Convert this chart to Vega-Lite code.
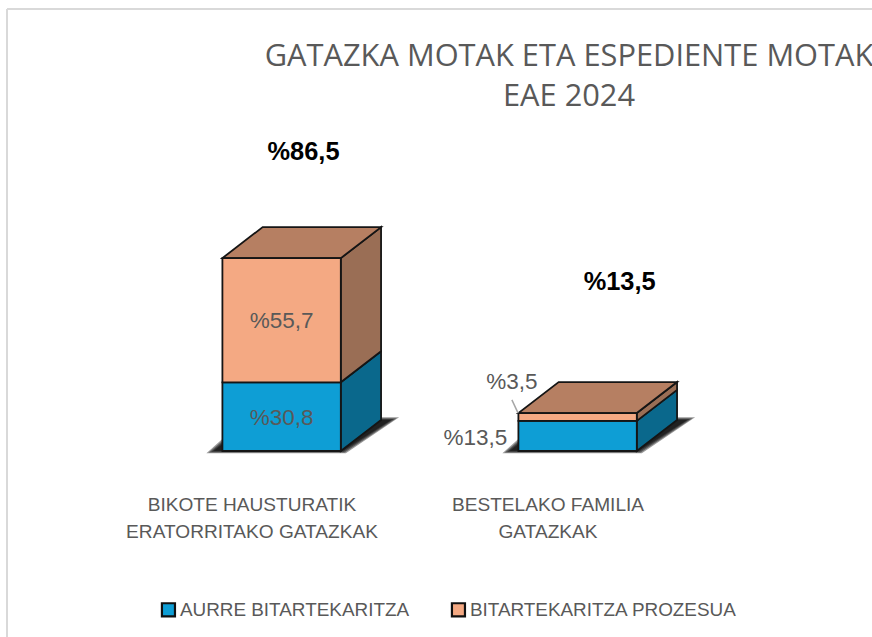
{
"$schema":"https://vega.github.io/schema/vega-lite/v6.json",
"width":872,"height":637,"padding":0,"autosize":{"type":"none"},
"background":"white",
"view":{"stroke":null},
"title":{"text":["GATAZKA MOTAK ETA ESPEDIENTE MOTAK","EAE 2024"],"anchor":"middle","frame":"group","dx":133,"offset":-113,"fontSize":30.8,"lineHeight":40,"font":"Open Sans","fontWeight":"normal","color":"#595959"},
"datasets":{
"bars":[
{"pos":1,"category":"BIKOTE HAUSTURATIK ERATORRITAKO GATAZKAK","series":"AURRE BITARTEKARITZA","value":30.8},
{"pos":1,"category":"BIKOTE HAUSTURATIK ERATORRITAKO GATAZKAK","series":"BITARTEKARITZA PROZESUA","value":55.7},
{"pos":2,"category":"BESTELAKO FAMILIA GATAZKAK","series":"AURRE BITARTEKARITZA","value":13.5},
{"pos":2,"category":"BESTELAKO FAMILIA GATAZKAK","series":"BITARTEKARITZA PROZESUA","value":3.5}],
"categories":[
{"x":1,"y":-24,"label":"BIKOTE HAUSTURATIK\nERATORRITAKO GATAZKAK"},
{"x":2,"y":-24,"label":"BESTELAKO FAMILIA\nGATAZKAK"}],
"labels":[
{"x":1.1,"y":15,"label":"%30,8"},
{"x":1.1,"y":58.2,"label":"%55,7"},
{"x":1.755,"y":5.9,"label":"%13,5"},
{"x":1.878,"y":31,"label":"%3,5"}],
"totals":[
{"x":1.174,"y":134.1,"label":"%86,5"},
{"x":2.242,"y":75.8,"label":"%13,5"}],
"leader":[{"x":1.878,"x2":1.899,"y":22.9,"y2":17}],
"frame":[{"x":0.1723,"x2":3.0946,"y":198.2,"y2":-83.41}]
},
"layer":[
{"data":{"name":"frame"},"mark":{"type":"rule","color":"#d9d9d9","strokeWidth":2},
 "encoding":{"x":{"field":"x","type":"quantitative","axis":null,"scale":{"domain":[0.1486,3.0946],"zero":false,"nice":false}},
  "y":{"field":"y","type":"quantitative","axis":null,"scale":{"domain":[-83.41,202.24],"zero":false,"nice":false}},"y2":{"field":"y2"}}},
{"data":{"name":"frame"},"mark":{"type":"rule","color":"#d9d9d9","strokeWidth":2},
 "encoding":{"x":{"field":"x","type":"quantitative","axis":null,"scale":{"domain":[0.1486,3.0946],"zero":false,"nice":false}},"x2":{"field":"x2"},"y":{"field":"y","type":"quantitative","axis":null,"scale":{"domain":[-83.41,202.24],"zero":false,"nice":false}}}},
{"data":{"name":"bars"},
 "transform":[{"filter":"datum.series=='AURRE BITARTEKARITZA'"},
  {"calculate":"[0,1,2,3]","as":"t"},{"flatten":["t"]},
  {"calculate":"[3,2,1,0]","as":"e"},{"flatten":["e"]},
  {"calculate":"datum.pos-0.13-0.008*datum.e","as":"xL"},
  {"calculate":"datum.pos+0.305+0.004*datum.e","as":"xR"},
  {"calculate":"datum.pos+0.47+0.009*datum.e","as":"xT"},
  {"calculate":"13.9+0.4*datum.e","as":"yt"},
  {"calculate":"-0.35*datum.e","as":"yb"},
  {"calculate":"[datum.xL,datum.xL+0.136,datum.xR,datum.xT][datum.t]","as":"sx"},
  {"calculate":"datum.t==3?datum.yt:datum.yb","as":"sl"},
  {"calculate":"datum.t==0?datum.yb:datum.yt","as":"su"}],
 "mark":{"type":"area","color":"black","opacity":0.4},
 "encoding":{"x":{"field":"sx","type":"quantitative","axis":null,"scale":{"domain":[0.1486,3.0946],"zero":false,"nice":false}},"y":{"field":"sl","type":"quantitative","axis":null,"scale":{"domain":[-83.41,202.24],"zero":false,"nice":false}},"y2":{"field":"su"},"detail":[{"field":"pos"},{"field":"e"}]}},
{"data":{"name":"bars"},
 "transform":[{"stack":"value","groupby":["pos"],"sort":[{"field":"series"}],"as":["start","end"]},
  {"calculate":"[0,1]","as":"t"},{"flatten":["t"]},
  {"calculate":"datum.pos+0.3+0.136*datum.t","as":"sx"},
  {"calculate":"datum.start+13.9*datum.t","as":"sl"},
  {"calculate":"datum.end+13.9*datum.t","as":"su"}],
 "mark":{"type":"area","stroke":"#151515","strokeWidth":1.8},
 "encoding":{"x":{"field":"sx","type":"quantitative","axis":null,"scale":{"domain":[0.1486,3.0946],"zero":false,"nice":false}},"y":{"field":"sl","type":"quantitative","axis":null,"scale":{"domain":[-83.41,202.24],"zero":false,"nice":false}},"y2":{"field":"su"},"detail":[{"field":"pos"},{"field":"series"}],
  "fill":{"condition":{"test":"datum.series=='AURRE BITARTEKARITZA'","value":"#0a688c"},"value":"#9a6e55"}}},
{"data":{"name":"bars"},
 "transform":[{"stack":"value","groupby":["pos"],"sort":[{"field":"series"}],"as":["start","end"]},
  {"filter":"datum.series=='BITARTEKARITZA PROZESUA'"},
  {"calculate":"[0,0.136,0.4,0.536]","as":"s"},{"flatten":["s"]},
  {"calculate":"datum.pos-0.1+datum.s","as":"sx"},
  {"calculate":"datum.end+13.9*max(0,(datum.s-0.4)/0.136)","as":"sl"},
  {"calculate":"datum.end+13.9*min(1,datum.s/0.136)","as":"su"}],
 "mark":{"type":"area","fill":"#b67f62","stroke":"#151515","strokeWidth":1.8},
 "encoding":{"x":{"field":"sx","type":"quantitative","axis":null,"scale":{"domain":[0.1486,3.0946],"zero":false,"nice":false}},"y":{"field":"sl","type":"quantitative","axis":null,"scale":{"domain":[-83.41,202.24],"zero":false,"nice":false}},"y2":{"field":"su"},"detail":{"field":"pos"}}},
{"data":{"name":"bars"},
 "transform":[{"stack":"value","groupby":["pos"],"sort":[{"field":"series"}],"as":["start","end"]},
  {"calculate":"datum.pos-0.1","as":"x0"},{"calculate":"datum.pos+0.3","as":"x1"}],
 "mark":{"type":"rect","stroke":"#151515","strokeWidth":1.8},
 "encoding":{
  "x":{"field":"x0","type":"quantitative","axis":null,"scale":{"domain":[0.1486,3.0946],"zero":false,"nice":false}},
  "x2":{"field":"x1"},
  "y":{"field":"start","type":"quantitative","axis":null,"scale":{"domain":[-83.41,202.24],"zero":false,"nice":false}},"y2":{"field":"end"},
  "fill":{"field":"series","type":"nominal","scale":{"domain":["AURRE BITARTEKARITZA","BITARTEKARITZA PROZESUA"],"range":["#0e9ed5","#f4a983"]},
   "legend":{"orient":"none","legendX":159,"legendY":600,"direction":"horizontal","columns":2,"title":null,"symbolType":"square","symbolSize":170,"symbolStrokeColor":"#111111","symbolStrokeWidth":2.2,"labelFont":"Liberation Sans","labelFontSize":18.9,"labelColor":"#595959","labelOffset":2,"labelLimit":400,"columnPadding":37}}}},
{"data":{"name":"leader"},"mark":{"type":"rule","color":"#a6a6a6","strokeWidth":1.5},
 "encoding":{"x":{"field":"x","type":"quantitative","axis":null,"scale":{"domain":[0.1486,3.0946],"zero":false,"nice":false}},"x2":{"field":"x2"},"y":{"field":"y","type":"quantitative","axis":null,"scale":{"domain":[-83.41,202.24],"zero":false,"nice":false}},"y2":{"field":"y2"}}},
{"data":{"name":"categories"},"mark":{"type":"text","font":"Liberation Sans","fontSize":19.1,"color":"#595959","lineBreak":"\n","lineHeight":27,"baseline":"middle"},
 "encoding":{"x":{"field":"x","type":"quantitative","axis":null,"scale":{"domain":[0.1486,3.0946],"zero":false,"nice":false}},"y":{"field":"y","type":"quantitative","axis":null,"scale":{"domain":[-83.41,202.24],"zero":false,"nice":false}},"text":{"field":"label"}}},
{"data":{"name":"labels"},"mark":{"type":"text","font":"Liberation Sans","fontSize":22.5,"color":"#595959"},
 "encoding":{"x":{"field":"x","type":"quantitative","axis":null,"scale":{"domain":[0.1486,3.0946],"zero":false,"nice":false}},"y":{"field":"y","type":"quantitative","axis":null,"scale":{"domain":[-83.41,202.24],"zero":false,"nice":false}},"text":{"field":"label"}}},
{"data":{"name":"totals"},"mark":{"type":"text","font":"Liberation Sans","fontSize":25.4,"fontWeight":"bold","color":"black"},
 "encoding":{"x":{"field":"x","type":"quantitative","axis":null,"scale":{"domain":[0.1486,3.0946],"zero":false,"nice":false}},"y":{"field":"y","type":"quantitative","axis":null,"scale":{"domain":[-83.41,202.24],"zero":false,"nice":false}},"text":{"field":"label"}}}
]
}
